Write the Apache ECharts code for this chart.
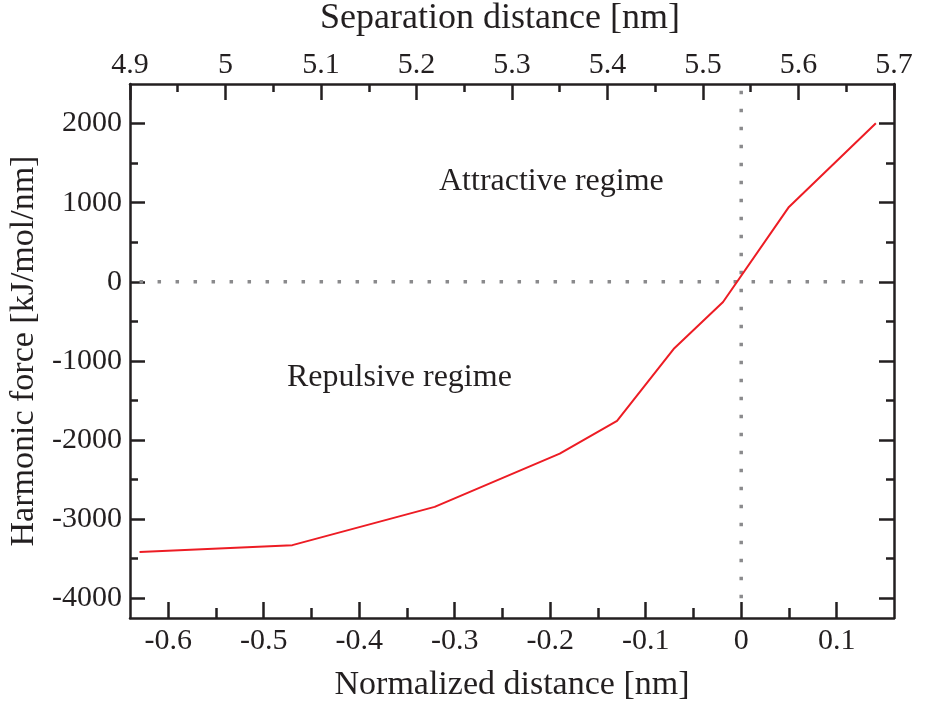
<!DOCTYPE html>
<html>
<head>
<meta charset="utf-8">
<script src="https://cdn.jsdelivr.net/npm/echarts@6/dist/echarts.min.js"></script>
<style>
html,body{margin:0;padding:0;background:#fff;}
#chart{width:931px;height:706px;}
</style>
</head>
<body>
<div id="chart"></div>
<script>
// ---- data ----
const normDist = [-0.63, -0.47, -0.321, -0.19, -0.13, -0.07, -0.019, 0.05, 0.141];
const force    = [-3417, -3329, -2845, -2173, -1757, -840, -256, 946, 2005];

const bottomMajor = [-0.6, -0.5, -0.4, -0.3, -0.2, -0.1, 0, 0.1];
const bottomMinor = [-0.55, -0.45, -0.35, -0.25, -0.15, -0.05, 0.05];
const topMajor = [4.9, 5.0, 5.1, 5.2, 5.3, 5.4, 5.5, 5.6, 5.7];
const topMinor = [4.95, 5.05, 5.15, 5.25, 5.35, 5.45, 5.55, 5.65];
const yMajor = [-4000, -3000, -2000, -1000, 0, 1000, 2000];
const yMinor = [-3500, -2500, -1500, -500, 500, 1500];

const hRefX = [-0.63, 0.141];
const hRefY = [0, 0];
const vRefX = [0, 0];
const vRefY = [-4000, 2480];

const FONT = 'Liberation Serif';
const INK = '#231f20';

function tickAxisBase(extra){
  return Object.assign({
    type: 'value',
    splitLine: {show: false},
    axisLine: {show: false, onZero: false},
  }, extra);
}

const chart = echarts.init(document.getElementById('chart'), null, {renderer: 'canvas'});
const axisLineStyle = {color: INK, width: 2.5};
const fmt1 = v => String(Math.round(v*10)/10);

const option = {
  backgroundColor: '#ffffff',
  animation: false,
  grid: {left: 130, right: 37, top: 84, bottom: 88, containLabel: false, outerBoundsMode: 'none', show: false},
  xAxis: [
    tickAxisBase({
      min: -0.64, max: 0.16, position: 'bottom',
      axisLine: {show: true, onZero: false, lineStyle: axisLineStyle},
      axisTick: {show: true, inside: true, length: 16, lineStyle: {color: INK, width: 2.5}, customValues: bottomMajor},
      axisLabel: {show: true, customValues: bottomMajor, margin: 8, fontFamily: FONT, fontSize: 30, color: INK, formatter: fmt1},
      name: 'Normalized distance [nm]', nameLocation: 'middle', nameGap: 50,
      nameTextStyle: {fontFamily: FONT, fontSize: 34, color: INK}
    }),
    tickAxisBase({
      min: -0.64, max: 0.16, position: 'bottom',
      axisTick: {show: true, inside: true, length: 10, lineStyle: {color: INK, width: 2.5}, customValues: bottomMinor},
      axisLabel: {show: false}
    }),
    tickAxisBase({
      min: 4.9, max: 5.7, position: 'top',
      axisLine: {show: true, onZero: false, lineStyle: axisLineStyle},
      axisTick: {show: true, inside: true, length: 16, lineStyle: {color: INK, width: 2.5}, customValues: topMajor},
      axisLabel: {show: true, customValues: topMajor, margin: 4, fontFamily: FONT, fontSize: 30, color: INK, formatter: fmt1},
      name: 'Separation distance [nm]', nameLocation: 'middle', nameGap: 47,
      nameTextStyle: {fontFamily: FONT, fontSize: 36, color: INK, padding: [0, 24, 0, 0]}
    }),
    tickAxisBase({
      min: 4.9, max: 5.7, position: 'top',
      axisTick: {show: true, inside: true, length: 8, lineStyle: {color: INK, width: 2.5}, customValues: topMinor},
      axisLabel: {show: false}
    })
  ],
  yAxis: [
    tickAxisBase({
      min: -4250, max: 2500, position: 'left',
      axisLine: {show: true, onZero: false, lineStyle: axisLineStyle},
      axisTick: {show: true, inside: true, length: 15, lineStyle: {color: INK, width: 2.5}, customValues: yMajor},
      axisLabel: {show: true, customValues: yMajor, margin: 8, fontFamily: FONT, fontSize: 30, color: INK, formatter: v => String(v)},
      name: 'Harmonic force [kJ/mol/nm]', nameLocation: 'middle', nameGap: 83, nameRotate: 90,
      nameTextStyle: {fontFamily: FONT, fontSize: 34, color: INK}
    }),
    tickAxisBase({
      min: -4250, max: 2500, position: 'left',
      axisTick: {show: true, inside: true, length: 8, lineStyle: {color: INK, width: 2.5}, customValues: yMinor},
      axisLabel: {show: false}
    }),
    tickAxisBase({
      min: -4250, max: 2500, position: 'right',
      axisLine: {show: true, onZero: false, lineStyle: axisLineStyle},
      axisTick: {show: true, inside: true, length: 15, lineStyle: {color: INK, width: 2.5}, customValues: yMajor},
      axisLabel: {show: false}
    }),
    tickAxisBase({
      min: -4250, max: 2500, position: 'right',
      axisTick: {show: true, inside: true, length: 8, lineStyle: {color: INK, width: 2.5}, customValues: yMinor},
      axisLabel: {show: false}
    })
  ],
  series: [
    {
      type: 'line', xAxisIndex: 0, yAxisIndex: 0, symbol: 'none', silent: true,
      data: hRefX.map((x, i) => [x, hRefY[i]]),
      lineStyle: {color: '#8a8a8c', width: 3.5, type: [3.5, 14.5], cap: 'butt'}
    },
    {
      type: 'line', xAxisIndex: 0, yAxisIndex: 0, symbol: 'none', silent: true,
      data: vRefX.map((x, i) => [x, vRefY[i]]),
      lineStyle: {color: '#8a8a8c', width: 3.5, type: [3.5, 14.5], cap: 'butt'}
    },
    {
      type: 'line', xAxisIndex: 0, yAxisIndex: 0, symbol: 'none',
      data: normDist.map((x, i) => [x, force[i]]),
      lineStyle: {color: '#ed1c24', width: 2}
    }
  ],
  graphic: [
    {type: 'text', left: 439, top: 166, style: {text: 'Attractive regime', font: '32px "Liberation Serif"', fill: INK}},
    {type: 'text', left: 287, top: 362, style: {text: 'Repulsive regime', font: '32px "Liberation Serif"', fill: INK}}
  ]
};
chart.setOption(option);
</script>
</body>
</html>
